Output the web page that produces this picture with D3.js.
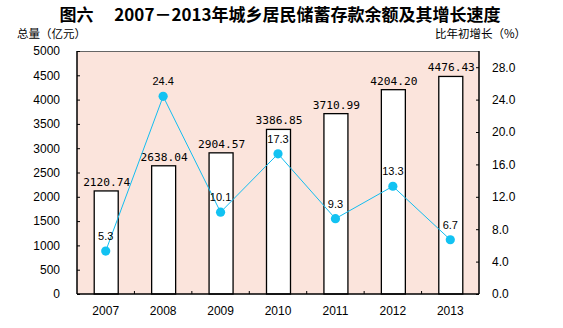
<!DOCTYPE html>
<html><head><meta charset="utf-8">
<script src="https://cdn.jsdelivr.net/npm/d3@7"></script>
<style>body{margin:0;background:#fff}svg{display:block}</style>
</head><body>
<script>
const years = ["2007","2008","2009","2010","2011","2012","2013"];
const balances = [2120.74, 2638.04, 2904.57, 3386.85, 3710.99, 4204.20, 4476.43];
const balanceLabels = ["2120.74","2638.04","2904.57","3386.85","3710.99","4204.20","4476.43"];
const growth = [5.3, 24.4, 10.1, 17.3, 9.3, 13.3, 6.7];
const leftTicks = [0,500,1000,1500,2000,2500,3000,3500,4000,4500,5000];
const rightTicks = [0,4,8,12,16,20,24,28];
const title = "图六　 2007－2013年城乡居民储蓄存款余额及其增长速度";
const leftTitle = "总量（亿元）";
const rightTitle = "比年初增长（%）";

const W = 563, H = 328;
const m = {l:77, r:479, t:51, b:294};
const svg = d3.select("body").append("svg").attr("width", W).attr("height", H);

const x = d3.scaleBand().domain(years).range([m.l, m.r]).paddingInner(0).paddingOuter(0);
const yL = d3.scaleLinear().domain([0,5000]).range([m.b, m.t]);
const yR = d3.scaleLinear().domain([0,30]).range([m.b, m.t]);

// background
svg.append("rect").attr("x",m.l).attr("y",m.t).attr("width",m.r-m.l).attr("height",m.b-m.t).attr("fill","#fbe4dc");
svg.append("line").attr("x1",m.l).attr("x2",m.r).attr("y1",m.t+0.5).attr("y2",m.t+0.5).attr("stroke","#666").attr("stroke-width",1);

// bars
const bw = 24;
svg.selectAll("rect.bar").data(years).enter().append("rect")
  .attr("x", d => x(d) + x.bandwidth()/2 - bw/2 + 0.5)
  .attr("y", (d,i) => yL(balances[i]))
  .attr("width", bw)
  .attr("height", (d,i) => m.b - yL(balances[i]))
  .attr("fill","#fff").attr("stroke","#000").attr("stroke-width",1.3);

svg.selectAll("text.bl").data(years).enter().append("text")
  .attr("x", d => x(d) + x.bandwidth()/2 + 1)
  .attr("y", (d,i) => yL(balances[i]) - 5)
  .attr("text-anchor","middle")
  .attr("font-family","'DejaVu Sans Mono','Liberation Mono',monospace")
  .attr("font-size",11.2).attr("fill","#000")
  .text((d,i) => balanceLabels[i]);

// axes
const axL = d3.axisLeft(yL).tickValues(leftTicks).tickSize(-3).tickPadding(17).tickFormat(d3.format("d"));
const gL = svg.append("g").attr("transform",`translate(${m.l},0)`).call(axL);
const axR = d3.axisRight(yR).tickValues(rightTicks).tickSize(-3).tickPadding(13).tickFormat(d3.format(".1f"));
const gR = svg.append("g").attr("transform",`translate(${m.r},0)`).call(axR);
const axB = d3.axisBottom(x).tickSize(0).tickPadding(12);
const gB = svg.append("g").attr("transform",`translate(0,${m.b})`).call(axB);
[gL,gR,gB].forEach(g => {
  g.select(".domain").attr("stroke","#000").attr("stroke-width",1.5);
  g.selectAll(".tick line").attr("stroke","#000");
  g.selectAll("text").attr("font-family","'Liberation Sans',Arial,sans-serif").attr("font-size",12).attr("fill","#000");
});
gL.select(".domain").attr("d",`M0,${m.t}V${m.b}`);
gR.select(".domain").attr("d",`M0,${m.t}V${m.b}`);
gB.select(".domain").attr("d",`M${m.l},0H${m.r}`);
// category boundary ticks on bottom axis
svg.selectAll("line.bt").data(years.slice(1)).enter().append("line")
  .attr("x1", d => x(d)).attr("x2", d => x(d))
  .attr("y1", m.b).attr("y2", m.b-3).attr("stroke","#000");

// line
const line = d3.line().x((d,i) => x(years[i]) + x.bandwidth()/2).y(d => yR(d));
svg.append("path").datum(growth).attr("d", line).attr("fill","none").attr("stroke","#13bdf0").attr("stroke-width",1);
svg.selectAll("circle.pt").data(growth).enter().append("circle")
  .attr("cx",(d,i) => x(years[i]) + x.bandwidth()/2)
  .attr("cy", d => yR(d)).attr("r",4.6).attr("fill","#12c2f2");
svg.selectAll("text.pl").data(growth).enter().append("text")
  .attr("x",(d,i) => x(years[i]) + x.bandwidth()/2)
  .attr("y", d => yR(d) - 11)
  .attr("text-anchor","middle")
  .attr("font-family","'Liberation Sans',Arial,sans-serif").attr("font-size",11).attr("fill","#000")
  .text(d => d3.format(".1f")(d));

// titles
svg.append("text").attr("x",280).attr("y",21).attr("text-anchor","middle")
  .attr("font-family","'Noto Sans CJK SC',sans-serif").attr("font-weight","bold").attr("font-size",17)
  .text(title);
svg.append("text").attr("x",17).attr("y",38)
  .attr("font-family","'Noto Sans CJK SC',sans-serif").attr("font-size",11.5).text(leftTitle);
svg.append("text").attr("x",526).attr("y",38).attr("text-anchor","end")
  .attr("font-family","'Noto Sans CJK SC',sans-serif").attr("font-size",11.5).text(rightTitle);
</script>
</body></html>
